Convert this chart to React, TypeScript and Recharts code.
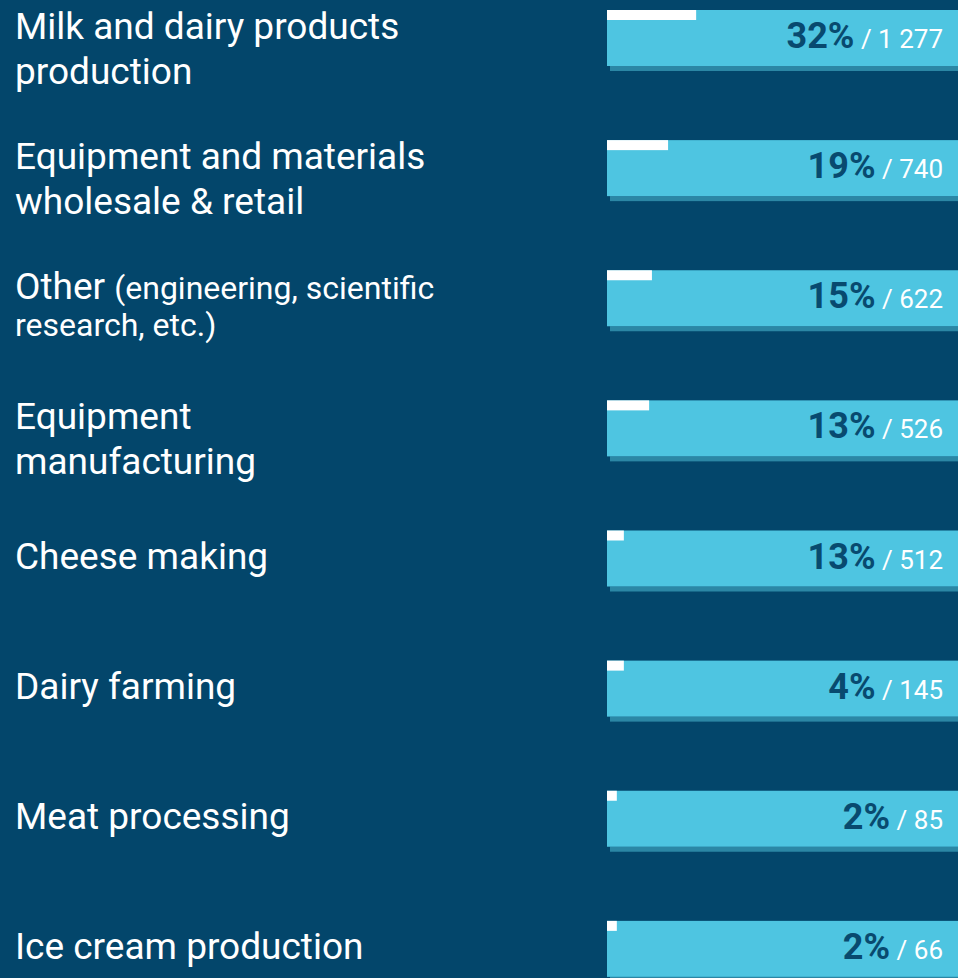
import React from "react";
import { BarChart, Bar, XAxis, YAxis } from "recharts";

const categories = [
  "Milk and dairy products production",
  "Equipment and materials wholesale & retail",
  "Other (engineering, scientific research, etc.)",
  "Equipment manufacturing",
  "Cheese making",
  "Dairy farming",
  "Meat processing",
  "Ice cream production",
];
const labelLines = [
  ["Milk and dairy products", "production"],
  ["Equipment and materials", "wholesale & retail"],
  ["Other (engineering, scientific", "research, etc.)"],
  ["Equipment", "manufacturing"],
  ["Cheese making"],
  ["Dairy farming"],
  ["Meat processing"],
  ["Ice cream production"],
];
const percents = [32, 19, 15, 13, 13, 4, 2, 2];
const counts = [1277, 740, 622, 526, 512, 145, 85, 66];
// white marker length, as % of the bar track
const markers = [25.4, 17.4, 12.8, 12.0, 4.8, 4.8, 2.8, 2.8];

const BG = "#03466B";
const CYAN = "#4EC5E1";
const SHADOW = "#2B87A5";
const DARK = "#084A6F";
const FONT = "Roboto, 'Noto Sans', sans-serif";

const data = categories.map((name, i) => ({
  name,
  marker: markers[i],
  pct: percents[i],
  count: counts[i],
}));

const fmt = (n: number) => String(n).replace(/\B(?=(\d{3})+(?!\d))/g, " ");

const Tick = (props: any) => {
  const { y, index } = props;
  const lines = labelLines[index] || [String(props.payload?.value ?? "")];
  const renderLine = (line: string) => {
    const p = line.indexOf("(");
    if (p > 0) {
      return (
        <>
          <tspan fontSize={37}>{line.slice(0, p)}</tspan>
          <tspan fontSize={32}>{line.slice(p)}</tspan>
        </>
      );
    }
    return line;
  };
  const isOther = lines[0].indexOf("(") > 0;
  if (lines.length === 1) {
    return (
      <text x={15} y={y + 10} fill="#fff" fontSize={37} fontFamily={FONT} textAnchor="start">
        {lines[0]}
      </text>
    );
  }
  return (
    <g>
      <text x={15} y={y + 1} fill="#fff" fontSize={37} fontFamily={FONT} textAnchor="start">
        {renderLine(lines[0])}
      </text>
      <text
        x={15}
        y={isOther ? y + 38 : y + 46}
        fill="#fff"
        fontSize={isOther ? 32 : 37}
        fontFamily={FONT}
        textAnchor="start"
      >
        {lines[1]}
      </text>
    </g>
  );
};

const Background = (props: any) => {
  const { x, y, width, height, index } = props;
  return (
    <g key={`bg-${index}`}>
      <rect x={x + 3} y={y + height} width={width - 3} height={5} fill={SHADOW} />
      <rect x={x} y={y} width={width} height={height} fill={CYAN} />
      <text
        x={x + width - 15}
        y={y + height / 2 + 10}
        textAnchor="end"
        fontFamily={FONT}
        style={{ whiteSpace: "pre" }}
      >
        <tspan fontWeight={700} fontSize={36} fill={DARK}>{`${percents[index]}%`}</tspan>
        <tspan fontSize={26} fill="#fff">{` / ${fmt(counts[index])}`}</tspan>
      </text>
    </g>
  );
};

const Marker = (props: any) => {
  const { x, y, width } = props;
  return <rect x={x} y={y} width={width} height={10} fill="#fff" />;
};

export default function App() {
  return (
    <div
      style={{
        position: "absolute",
        left: 0,
        top: 0,
        width: 958,
        height: 978,
        overflow: "hidden",
        background: BG,
      }}
    >
      <div style={{ position: "absolute", left: 0, top: -27 }}>
        <BarChart
          layout="vertical"
          width={958}
          height={1041}
          data={data}
          margin={{ top: 0, right: 0, bottom: 0, left: 0 }}
        >
          <XAxis type="number" domain={[0, 100]} hide />
          <YAxis
            type="category"
            dataKey="name"
            width={607}
            axisLine={false}
            tickLine={false}
            interval={0}
            tick={<Tick />}
          />
          <Bar
            dataKey="marker"
            barSize={56}
            isAnimationActive={false}
            background={Background}
            shape={Marker}
          />
        </BarChart>
      </div>
    </div>
  );
}
